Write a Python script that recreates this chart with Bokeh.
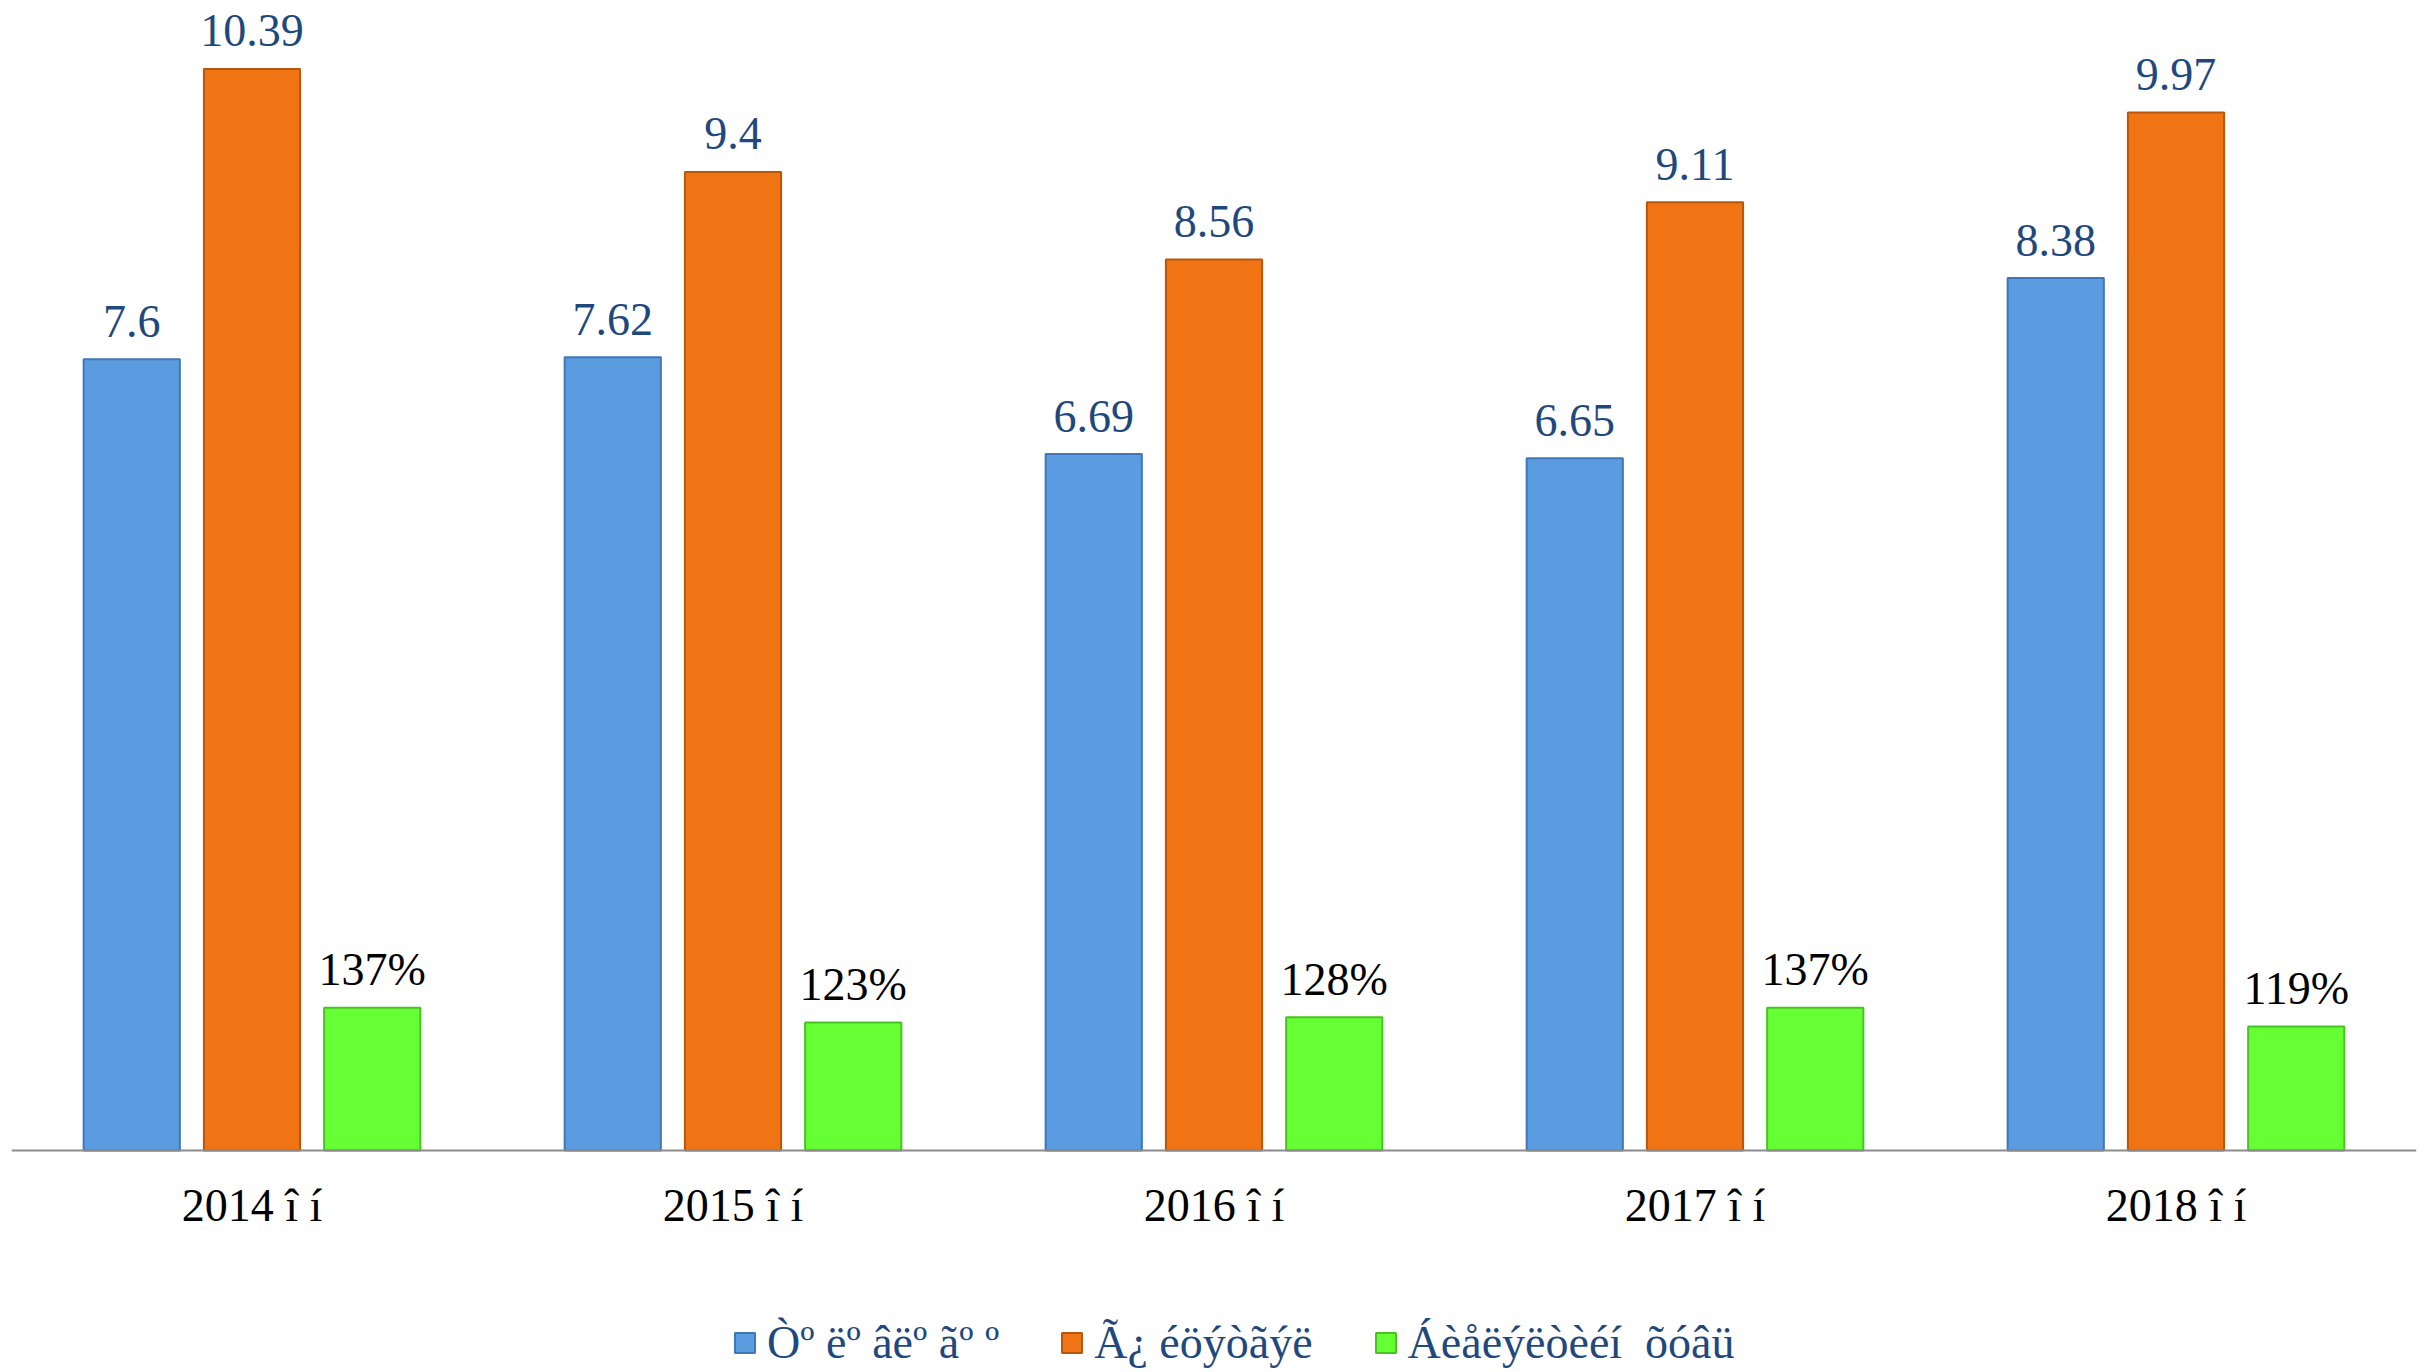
from bokeh.plotting import figure
from bokeh.models import ColumnDataSource, FactorRange, Range1d, Legend, LegendItem
from bokeh.transform import dodge
from bokeh.core.properties import value
from bokeh.embed import file_html
from bokeh.resources import INLINE

# ---- data ----
years = ["2014 î í", "2015 î í", "2016 î í", "2017 î í", "2018 î í"]
series_names = ["Òº ëº âëº ãº º", "Ã¿ éöýòãýë", "Áèåëýëòèéí  õóâü"]
s1 = [7.6, 7.62, 6.69, 6.65, 8.38]
s2 = [10.39, 9.4, 8.56, 9.11, 9.97]
s3 = [1.37, 1.23, 1.28, 1.37, 1.19]
s1_labels = ["7.6", "7.62", "6.69", "6.65", "8.38"]
s2_labels = ["10.39", "9.4", "8.56", "9.11", "9.97"]
s3_labels = ["137%", "123%", "128%", "137%", "119%"]

# ---- styles ----
NAVY = "#1F497D"
FONT = "Liberation Serif"
FS = "46px"
colors = ["#5B9BE0", "#F07413", "#66FF33"]
edges = ["#3F77B8", "#B8570C", "#47C422"]
label_colors = [NAVY, NAVY, "#000000"]
offsets = [-0.25, 0.0, 0.25]

src = ColumnDataSource(dict(x=years, s1=s1, s2=s2, s3=s3,
                            l1=s1_labels, l2=s2_labels, l3=s3_labels))

p = figure(x_range=FactorRange(*years, range_padding=0),
           y_range=Range1d(-2.1326, 10.97),
           width=2426, height=1372,
           output_backend="svg", toolbar_location=None,
           min_border_left=11, min_border_right=10,
           min_border_top=8, min_border_bottom=0)

renderers = []
for i, (col, lab) in enumerate([("s1", "l1"), ("s2", "l2"), ("s3", "l3")]):
    xd = dodge("x", offsets[i], range=p.x_range)
    r = p.vbar(x=xd, top=col, width=0.2, source=src,
               fill_color=colors[i], line_color=edges[i], line_width=2)
    renderers.append(r)
    p.text(x=xd, y=col, text=lab, source=src,
           text_align="center", text_baseline="alphabetic", y_offset=-38,
           text_font=value(FONT), text_font_size=FS, text_color=label_colors[i])

p.yaxis.visible = False
p.xgrid.grid_line_color = None
p.ygrid.grid_line_color = None
p.outline_line_color = None

ax = p.xaxis[0]
ax.fixed_location = 0
ax.axis_line_color = "#8C8C8C"
ax.axis_line_width = 2
ax.major_tick_line_color = None
ax.minor_tick_line_color = None
ax.major_label_standoff = 24
ax.major_label_text_font = FONT
ax.major_label_text_font_size = FS
ax.major_label_text_color = "#000000"

legend = Legend(items=[LegendItem(label=series_names[i], renderers=[renderers[i]]) for i in range(3)],
                orientation="horizontal", location=(721, 3),
                padding=0, margin=0, spacing=60, label_standoff=10,
                glyph_width=25, glyph_height=25,
                border_line_color=None, background_fill_alpha=0,
                label_text_font=FONT, label_text_font_size=FS,
                label_text_color=NAVY, label_text_baseline="middle")
p.add_layout(legend)

open("out.html", "w").write(file_html(p, INLINE))
